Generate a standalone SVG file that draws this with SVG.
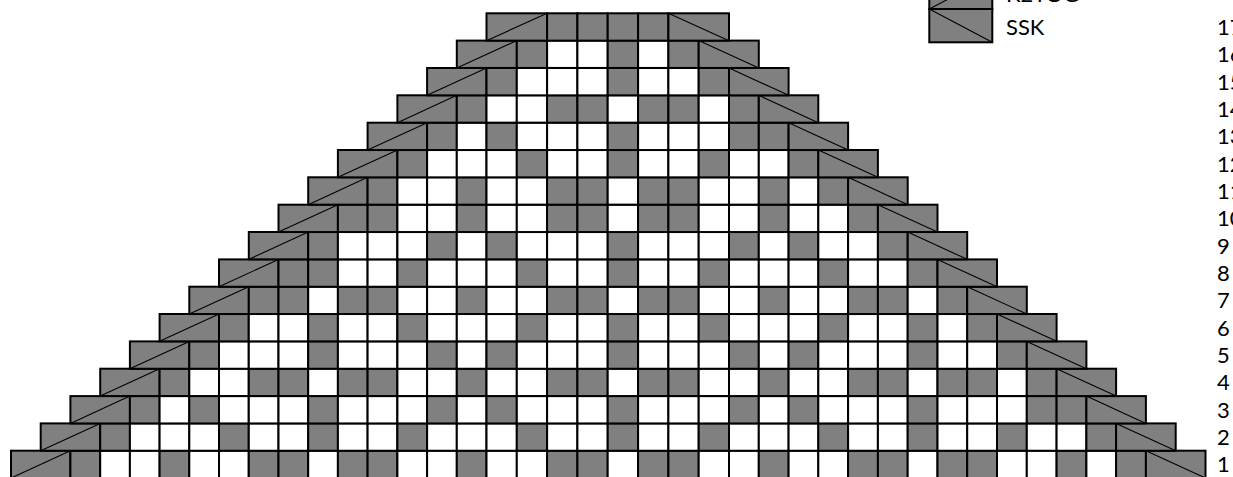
<svg xmlns="http://www.w3.org/2000/svg" width="1233" height="477" viewBox="0 0 1233 477">
<style>
.row rect{height:27.34px;stroke:#000;stroke-width:2}
.g{fill:#808080}
.w{fill:#fff}
.a{width:29.7px}
.b{width:30.3px}
.c{width:29.8px}
.d{stroke:#000;stroke-width:1.1}
.lg{fill:#808080;stroke:#000;stroke-width:2}
text{font-family:Lato,"Liberation Sans",sans-serif;font-size:22px;fill:#000}
</style>
<rect width="1233" height="477" fill="#fff"/>
<g id="legend">
<g id="legend-k2tog"><rect class="lg" x="929.3" y="-24" width="63" height="33"/><line class="d" x1="929.3" y1="9" x2="992.3" y2="-24"/><text x="1006" y="2">K2TOG</text></g>
<g id="legend-ssk"><rect class="lg" x="929.3" y="9" width="63" height="33.3"/><line class="d" x1="929.3" y1="9" x2="992.3" y2="42.3"/><text x="1006" y="35">SSK</text></g>
</g>
<g id="connectors"></g>
<g id="row-1" class="row" transform="translate(0,450.7)">
<rect class="g" x="11" width="59.4"/><line class="d" x1="11" y1="27.34" x2="70.4" y2="0"/>
<rect class="g a" x="70.4"/><rect class="w a" x="100.2"/><rect class="w a" x="129.9"/><rect class="g a" x="159.6"/><rect class="w a" x="189.3"/><rect class="w a" x="219"/><rect class="g a" x="248.8"/><rect class="g a" x="278.5"/><rect class="w a" x="308.2"/><rect class="g a" x="337.9"/><rect class="g a" x="367.6"/><rect class="w a" x="397.4"/><rect class="w a" x="427.1"/><rect class="g a" x="456.8"/><rect class="w b" x="486.5"/><rect class="w b" x="516.8"/><rect class="g b" x="547.1"/><rect class="g b" x="577.4"/><rect class="w b" x="607.7"/><rect class="g b" x="638.1"/><rect class="g b" x="668.4"/><rect class="w b" x="698.7"/><rect class="w c" x="729"/><rect class="g c" x="758.8"/><rect class="w c" x="788.6"/><rect class="w c" x="818.3"/><rect class="g c" x="848.1"/><rect class="g c" x="877.9"/><rect class="w c" x="907.7"/><rect class="g c" x="937.5"/><rect class="g c" x="967.2"/><rect class="w c" x="997"/><rect class="w c" x="1026.8"/><rect class="g c" x="1056.6"/><rect class="w c" x="1086.4"/><rect class="g c" x="1116.1"/>
<rect class="g" x="1145.9" width="59.6"/><line class="d" x1="1145.9" y1="0" x2="1205.5" y2="27.34"/>
</g>
<g id="row-2" class="row" transform="translate(0,423.4)">
<rect class="g" x="40.7" width="59.5"/><line class="d" x1="40.7" y1="27.34" x2="100.2" y2="0"/>
<rect class="g a" x="100.2"/><rect class="w a" x="129.9"/><rect class="w a" x="159.6"/><rect class="w a" x="189.3"/><rect class="g a" x="219"/><rect class="w a" x="248.8"/><rect class="w a" x="278.5"/><rect class="g a" x="308.2"/><rect class="w a" x="337.9"/><rect class="w a" x="367.6"/><rect class="g a" x="397.4"/><rect class="w a" x="427.1"/><rect class="w a" x="456.8"/><rect class="w b" x="486.5"/><rect class="g b" x="516.8"/><rect class="w b" x="547.1"/><rect class="w b" x="577.4"/><rect class="g b" x="607.7"/><rect class="w b" x="638.1"/><rect class="w b" x="668.4"/><rect class="g b" x="698.7"/><rect class="w c" x="729"/><rect class="w c" x="758.8"/><rect class="w c" x="788.6"/><rect class="g c" x="818.3"/><rect class="w c" x="848.1"/><rect class="w c" x="877.9"/><rect class="g c" x="907.7"/><rect class="w c" x="937.5"/><rect class="w c" x="967.2"/><rect class="g c" x="997"/><rect class="w c" x="1026.8"/><rect class="w c" x="1056.6"/><rect class="g c" x="1086.4"/>
<rect class="g" x="1116.1" width="59.6"/><line class="d" x1="1116.1" y1="0" x2="1175.7" y2="27.34"/>
</g>
<g id="row-3" class="row" transform="translate(0,396.1)">
<rect class="g" x="70.4" width="59.5"/><line class="d" x1="70.4" y1="27.34" x2="129.9" y2="0"/>
<rect class="g a" x="129.9"/><rect class="w a" x="159.6"/><rect class="g a" x="189.3"/><rect class="w a" x="219"/><rect class="w a" x="248.8"/><rect class="w a" x="278.5"/><rect class="g a" x="308.2"/><rect class="w a" x="337.9"/><rect class="w a" x="367.6"/><rect class="w a" x="397.4"/><rect class="g a" x="427.1"/><rect class="w a" x="456.8"/><rect class="g b" x="486.5"/><rect class="w b" x="516.8"/><rect class="w b" x="547.1"/><rect class="w b" x="577.4"/><rect class="g b" x="607.7"/><rect class="w b" x="638.1"/><rect class="w b" x="668.4"/><rect class="w b" x="698.7"/><rect class="g c" x="729"/><rect class="w c" x="758.8"/><rect class="g c" x="788.6"/><rect class="w c" x="818.3"/><rect class="w c" x="848.1"/><rect class="w c" x="877.9"/><rect class="g c" x="907.7"/><rect class="w c" x="937.5"/><rect class="w c" x="967.2"/><rect class="w c" x="997"/><rect class="g c" x="1026.8"/><rect class="g c" x="1056.6"/>
<rect class="g" x="1086.4" width="59.5"/><line class="d" x1="1086.4" y1="0" x2="1145.9" y2="27.34"/>
</g>
<g id="row-4" class="row" transform="translate(0,368.7)">
<rect class="g" x="100.2" width="59.4"/><line class="d" x1="100.2" y1="27.34" x2="159.6" y2="0"/>
<rect class="g a" x="159.6"/><rect class="w a" x="189.3"/><rect class="w a" x="219"/><rect class="g a" x="248.8"/><rect class="g a" x="278.5"/><rect class="w a" x="308.2"/><rect class="g a" x="337.9"/><rect class="g a" x="367.6"/><rect class="w a" x="397.4"/><rect class="w a" x="427.1"/><rect class="g a" x="456.8"/><rect class="w b" x="486.5"/><rect class="w b" x="516.8"/><rect class="g b" x="547.1"/><rect class="g b" x="577.4"/><rect class="w b" x="607.7"/><rect class="g b" x="638.1"/><rect class="g b" x="668.4"/><rect class="w b" x="698.7"/><rect class="w c" x="729"/><rect class="g c" x="758.8"/><rect class="w c" x="788.6"/><rect class="w c" x="818.3"/><rect class="g c" x="848.1"/><rect class="g c" x="877.9"/><rect class="w c" x="907.7"/><rect class="g c" x="937.5"/><rect class="g c" x="967.2"/><rect class="w c" x="997"/><rect class="g c" x="1026.8"/>
<rect class="g" x="1056.6" width="59.5"/><line class="d" x1="1056.6" y1="0" x2="1116.1" y2="27.34"/>
</g>
<g id="row-5" class="row" transform="translate(0,341.4)">
<rect class="g" x="129.9" width="59.4"/><line class="d" x1="129.9" y1="27.34" x2="189.3" y2="0"/>
<rect class="g a" x="189.3"/><rect class="w a" x="219"/><rect class="w a" x="248.8"/><rect class="w a" x="278.5"/><rect class="g a" x="308.2"/><rect class="w a" x="337.9"/><rect class="w a" x="367.6"/><rect class="w a" x="397.4"/><rect class="g a" x="427.1"/><rect class="w a" x="456.8"/><rect class="g b" x="486.5"/><rect class="w b" x="516.8"/><rect class="w b" x="547.1"/><rect class="w b" x="577.4"/><rect class="g b" x="607.7"/><rect class="w b" x="638.1"/><rect class="w b" x="668.4"/><rect class="w b" x="698.7"/><rect class="g c" x="729"/><rect class="w c" x="758.8"/><rect class="g c" x="788.6"/><rect class="w c" x="818.3"/><rect class="w c" x="848.1"/><rect class="w c" x="877.9"/><rect class="g c" x="907.7"/><rect class="w c" x="937.5"/><rect class="w c" x="967.2"/><rect class="g c" x="997"/>
<rect class="g" x="1026.8" width="59.6"/><line class="d" x1="1026.8" y1="0" x2="1086.4" y2="27.34"/>
</g>
<g id="row-6" class="row" transform="translate(0,314)">
<rect class="g" x="159.6" width="59.4"/><line class="d" x1="159.6" y1="27.34" x2="219" y2="0"/>
<rect class="g a" x="219"/><rect class="w a" x="248.8"/><rect class="w a" x="278.5"/><rect class="g a" x="308.2"/><rect class="w a" x="337.9"/><rect class="w a" x="367.6"/><rect class="g a" x="397.4"/><rect class="w a" x="427.1"/><rect class="w a" x="456.8"/><rect class="w b" x="486.5"/><rect class="g b" x="516.8"/><rect class="w b" x="547.1"/><rect class="w b" x="577.4"/><rect class="g b" x="607.7"/><rect class="w b" x="638.1"/><rect class="w b" x="668.4"/><rect class="g b" x="698.7"/><rect class="w c" x="729"/><rect class="w c" x="758.8"/><rect class="w c" x="788.6"/><rect class="g c" x="818.3"/><rect class="w c" x="848.1"/><rect class="w c" x="877.9"/><rect class="g c" x="907.7"/><rect class="w c" x="937.5"/><rect class="g c" x="967.2"/>
<rect class="g" x="997" width="59.6"/><line class="d" x1="997" y1="0" x2="1056.6" y2="27.34"/>
</g>
<g id="row-7" class="row" transform="translate(0,286.7)">
<rect class="g" x="189.3" width="59.5"/><line class="d" x1="189.3" y1="27.34" x2="248.8" y2="0"/>
<rect class="g a" x="248.8"/><rect class="g a" x="278.5"/><rect class="w a" x="308.2"/><rect class="g a" x="337.9"/><rect class="g a" x="367.6"/><rect class="w a" x="397.4"/><rect class="w a" x="427.1"/><rect class="g a" x="456.8"/><rect class="w b" x="486.5"/><rect class="w b" x="516.8"/><rect class="g b" x="547.1"/><rect class="g b" x="577.4"/><rect class="w b" x="607.7"/><rect class="g b" x="638.1"/><rect class="g b" x="668.4"/><rect class="w b" x="698.7"/><rect class="w c" x="729"/><rect class="g c" x="758.8"/><rect class="w c" x="788.6"/><rect class="w c" x="818.3"/><rect class="g c" x="848.1"/><rect class="g c" x="877.9"/><rect class="w c" x="907.7"/><rect class="g c" x="937.5"/>
<rect class="g" x="967.2" width="59.6"/><line class="d" x1="967.2" y1="0" x2="1026.8" y2="27.34"/>
</g>
<g id="row-8" class="row" transform="translate(0,259.4)">
<rect class="g" x="219" width="59.5"/><line class="d" x1="219" y1="27.34" x2="278.5" y2="0"/>
<rect class="g a" x="278.5"/><rect class="g a" x="308.2"/><rect class="w a" x="337.9"/><rect class="w a" x="367.6"/><rect class="g a" x="397.4"/><rect class="w a" x="427.1"/><rect class="w a" x="456.8"/><rect class="w b" x="486.5"/><rect class="g b" x="516.8"/><rect class="w b" x="547.1"/><rect class="w b" x="577.4"/><rect class="g b" x="607.7"/><rect class="w b" x="638.1"/><rect class="w b" x="668.4"/><rect class="g b" x="698.7"/><rect class="w c" x="729"/><rect class="w c" x="758.8"/><rect class="w c" x="788.6"/><rect class="g c" x="818.3"/><rect class="w c" x="848.1"/><rect class="w c" x="877.9"/><rect class="g c" x="907.7"/>
<rect class="g" x="937.5" width="59.5"/><line class="d" x1="937.5" y1="0" x2="997" y2="27.34"/>
</g>
<g id="row-9" class="row" transform="translate(0,232)">
<rect class="g" x="248.8" width="59.4"/><line class="d" x1="248.8" y1="27.34" x2="308.2" y2="0"/>
<rect class="g a" x="308.2"/><rect class="w a" x="337.9"/><rect class="w a" x="367.6"/><rect class="w a" x="397.4"/><rect class="g a" x="427.1"/><rect class="w a" x="456.8"/><rect class="g b" x="486.5"/><rect class="w b" x="516.8"/><rect class="w b" x="547.1"/><rect class="w b" x="577.4"/><rect class="g b" x="607.7"/><rect class="w b" x="638.1"/><rect class="w b" x="668.4"/><rect class="w b" x="698.7"/><rect class="g c" x="729"/><rect class="w c" x="758.8"/><rect class="g c" x="788.6"/><rect class="w c" x="818.3"/><rect class="w c" x="848.1"/><rect class="g c" x="877.9"/>
<rect class="g" x="907.7" width="59.5"/><line class="d" x1="907.7" y1="0" x2="967.2" y2="27.34"/>
</g>
<g id="row-10" class="row" transform="translate(0,204.7)">
<rect class="g" x="278.5" width="59.4"/><line class="d" x1="278.5" y1="27.34" x2="337.9" y2="0"/>
<rect class="g a" x="337.9"/><rect class="g a" x="367.6"/><rect class="w a" x="397.4"/><rect class="w a" x="427.1"/><rect class="g a" x="456.8"/><rect class="w b" x="486.5"/><rect class="w b" x="516.8"/><rect class="g b" x="547.1"/><rect class="g b" x="577.4"/><rect class="w b" x="607.7"/><rect class="g b" x="638.1"/><rect class="g b" x="668.4"/><rect class="w b" x="698.7"/><rect class="w c" x="729"/><rect class="g c" x="758.8"/><rect class="w c" x="788.6"/><rect class="w c" x="818.3"/><rect class="g c" x="848.1"/>
<rect class="g" x="877.9" width="59.6"/><line class="d" x1="877.9" y1="0" x2="937.5" y2="27.34"/>
</g>
<g id="row-11" class="row" transform="translate(0,177.3)">
<rect class="g" x="308.2" width="59.4"/><line class="d" x1="308.2" y1="27.34" x2="367.6" y2="0"/>
<rect class="g a" x="367.6"/><rect class="w a" x="397.4"/><rect class="w a" x="427.1"/><rect class="g a" x="456.8"/><rect class="w b" x="486.5"/><rect class="w b" x="516.8"/><rect class="g b" x="547.1"/><rect class="g b" x="577.4"/><rect class="w b" x="607.7"/><rect class="g b" x="638.1"/><rect class="g b" x="668.4"/><rect class="w b" x="698.7"/><rect class="w c" x="729"/><rect class="g c" x="758.8"/><rect class="w c" x="788.6"/><rect class="g c" x="818.3"/>
<rect class="g" x="848.1" width="59.6"/><line class="d" x1="848.1" y1="0" x2="907.7" y2="27.34"/>
</g>
<g id="row-12" class="row" transform="translate(0,150)">
<rect class="g" x="337.9" width="59.5"/><line class="d" x1="337.9" y1="27.34" x2="397.4" y2="0"/>
<rect class="g a" x="397.4"/><rect class="w a" x="427.1"/><rect class="w a" x="456.8"/><rect class="w b" x="486.5"/><rect class="g b" x="516.8"/><rect class="w b" x="547.1"/><rect class="w b" x="577.4"/><rect class="g b" x="607.7"/><rect class="w b" x="638.1"/><rect class="w b" x="668.4"/><rect class="g b" x="698.7"/><rect class="w c" x="729"/><rect class="w c" x="758.8"/><rect class="g c" x="788.6"/>
<rect class="g" x="818.3" width="59.6"/><line class="d" x1="818.3" y1="0" x2="877.9" y2="27.34"/>
</g>
<g id="row-13" class="row" transform="translate(0,122.7)">
<rect class="g" x="367.6" width="59.5"/><line class="d" x1="367.6" y1="27.34" x2="427.1" y2="0"/>
<rect class="g a" x="427.1"/><rect class="w a" x="456.8"/><rect class="g b" x="486.5"/><rect class="w b" x="516.8"/><rect class="w b" x="547.1"/><rect class="w b" x="577.4"/><rect class="g b" x="607.7"/><rect class="w b" x="638.1"/><rect class="w b" x="668.4"/><rect class="w b" x="698.7"/><rect class="g c" x="729"/><rect class="g c" x="758.8"/>
<rect class="g" x="788.6" width="59.5"/><line class="d" x1="788.6" y1="0" x2="848.1" y2="27.34"/>
</g>
<g id="row-14" class="row" transform="translate(0,95.3)">
<rect class="g" x="397.4" width="59.4"/><line class="d" x1="397.4" y1="27.34" x2="456.8" y2="0"/>
<rect class="g a" x="456.8"/><rect class="w b" x="486.5"/><rect class="w b" x="516.8"/><rect class="g b" x="547.1"/><rect class="g b" x="577.4"/><rect class="w b" x="607.7"/><rect class="g b" x="638.1"/><rect class="g b" x="668.4"/><rect class="w b" x="698.7"/><rect class="g c" x="729"/>
<rect class="g" x="758.8" width="59.5"/><line class="d" x1="758.8" y1="0" x2="818.3" y2="27.34"/>
</g>
<g id="row-15" class="row" transform="translate(0,68)">
<rect class="g" x="427.1" width="59.4"/><line class="d" x1="427.1" y1="27.34" x2="486.5" y2="0"/>
<rect class="g b" x="486.5"/><rect class="w b" x="516.8"/><rect class="w b" x="547.1"/><rect class="w b" x="577.4"/><rect class="g b" x="607.7"/><rect class="w b" x="638.1"/><rect class="w b" x="668.4"/><rect class="g b" x="698.7"/>
<rect class="g" x="729" width="59.6"/><line class="d" x1="729" y1="0" x2="788.6" y2="27.34"/>
</g>
<g id="row-16" class="row" transform="translate(0,40.6)">
<rect class="g" x="456.8" width="60"/><line class="d" x1="456.8" y1="27.34" x2="516.8" y2="0"/>
<rect class="g b" x="516.8"/><rect class="w b" x="547.1"/><rect class="w b" x="577.4"/><rect class="g b" x="607.7"/><rect class="w b" x="638.1"/><rect class="g b" x="668.4"/>
<rect class="g" x="698.7" width="60.1"/><line class="d" x1="698.7" y1="0" x2="758.8" y2="27.34"/>
</g>
<g id="row-17" class="row" transform="translate(0,13.3)">
<rect class="g" x="486.5" width="60.6"/><line class="d" x1="486.5" y1="27.34" x2="547.1" y2="0"/>
<rect class="g b" x="547.1"/><rect class="g b" x="577.4"/><rect class="g b" x="607.7"/><rect class="g b" x="638.1"/>
<rect class="g" x="668.4" width="60.6"/><line class="d" x1="668.4" y1="0" x2="729" y2="27.34"/>
</g>
<g id="row-labels">
<text x="1217" y="34.9">17</text>
<text x="1217" y="62.2">16</text>
<text x="1217" y="89.6">15</text>
<text x="1217" y="116.9">14</text>
<text x="1217" y="144.3">13</text>
<text x="1217" y="171.6">12</text>
<text x="1217" y="198.9">11</text>
<text x="1217" y="226.3">10</text>
<text x="1217" y="253.6">9</text>
<text x="1217" y="281">8</text>
<text x="1217" y="308.3">7</text>
<text x="1217" y="335.6">6</text>
<text x="1217" y="363">5</text>
<text x="1217" y="390.3">4</text>
<text x="1217" y="417.7">3</text>
<text x="1217" y="445">2</text>
<text x="1217" y="472.3">1</text>
</g>
</svg>
